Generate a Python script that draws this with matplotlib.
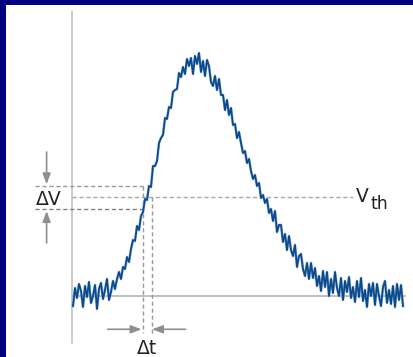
import numpy as np
import matplotlib.pyplot as plt

# noisy detector pulse, one sample every 2 px (arbitrary units)
pulse = [-10, 8, -2, 12, 5, -11, 10, -1, 14, -7, 0, 11, -13, 7, 13, -3, 6, 17, -4, 4,
         15, 7, 17, 24, 17, 29, 27, 39, 34, 47, 56, 55, 70, 66, 80, 84, 97, 96, 110, 109,
         130, 130, 135, 153, 158, 161, 178, 177, 189, 188, 204, 206, 207, 223, 219, 229, 222, 237, 230, 238,
         222, 240, 232, 243, 224, 235, 220, 236, 230, 214, 210, 220, 206, 217, 201, 201, 186, 196, 181, 188,
         171, 172, 158, 164, 153, 143, 145, 133, 137, 125, 117, 121, 110, 113, 98, 101, 93, 97, 83, 87,
         75, 85, 64, 71, 71, 54, 62, 46, 60, 46, 40, 51, 29, 40, 42, 27, 20, 33, 17, 33,
         18, 28, 10, 20, 5, 25, 9, 24, 0, 17, 3, 24, 8, 0, 18, -4, 15, 4, 19, -2,
         9, -6, 15, -1, 18, -5, 6, -11, 12, 0, 13, -9, 12, 0, -10, 9, 15, -7, 6, -8,
         10, -11, 12, -4, 11, -10]
t = np.arange(len(pulse))

v_th = 99          # threshold level
delta_v = 11.5     # noise band around threshold
t_cross = (34.8, 39.3)   # jitter window on the rising edge

fig = plt.figure(figsize=(4.13, 3.57), dpi=100, facecolor='#000080')
ax = fig.add_axes([6/413, 0, 1 - 6/413, 1 - 5/357])
ax.set_facecolor('white')
ax.set_xlim(-33.5, 170)
ax.set_ylim(-61, 291)
for s in ax.spines.values():
    s.set_visible(False)
ax.set_xticks([])
ax.set_yticks([])

grey = '#9a9a9a'
dash = (0, (3, 2))

# axes of the sketch
ax.plot([-0.5, -0.5], [-47, 284], color='#bdbdbd', lw=1.1, zorder=1)
ax.plot([-0.5, 166], [0, 0], color='#adadad', lw=1.1, zorder=1)

# threshold and noise band
ax.plot([-0.5, 140], [v_th, v_th], color='#a8a8a8', lw=1, ls=dash, zorder=1)
ax.plot([-19, t_cross[0]], [v_th + delta_v] * 2, color=grey, lw=1, ls=dash, zorder=1)
ax.plot([-19, t_cross[0]], [v_th - delta_v] * 2, color='#808080', lw=1, ls=dash, zorder=1)
ax.plot([t_cross[0]] * 2, [v_th + delta_v, -37], color=grey, lw=1, ls=dash, zorder=1)
ax.plot([t_cross[1]] * 2, [v_th, -37], color=grey, lw=1, ls=dash, zorder=1)

# pulse trace
ax.plot(t, pulse, color='#7fa7d0', lw=2.0, alpha=0.7, zorder=2)
ax.plot(t, pulse, color='#0b4a8c', lw=1.3, zorder=3)

arrow = dict(arrowstyle='-|>,head_length=0.4,head_width=0.15', color='#8f8f8f',
             lw=1.2, mutation_scale=16, shrinkA=0, shrinkB=0)
ax.annotate('', xy=(-13.2, 111.7), xytext=(-13.2, 144), arrowprops=arrow)
ax.annotate('', xy=(-13.2, 85), xytext=(-13.2, 53), arrowprops=arrow)
ax.annotate('', xy=(34.3, -33.3), xytext=(17.3, -33.3), arrowprops=arrow)
ax.annotate('', xy=(39.5, -33.3), xytext=(56.3, -33.3), arrowprops=arrow)

ax.text(-12.2, 91, '\u0394V', fontsize=13.5, ha='center', va='baseline', color='#222222')
ax.text(37.1, -57.5, '\u0394t', fontsize=13.5, ha='center', va='baseline', color='#222222')
ax.text(141.5, 93.7, 'V', fontsize=13.5, ha='left', va='baseline', color='#222222')
ax.text(148.6, 87, 'th', fontsize=12.5, ha='left', va='baseline', color='#222222')

fig.savefig('out.png', dpi=100, facecolor=fig.get_facecolor())
